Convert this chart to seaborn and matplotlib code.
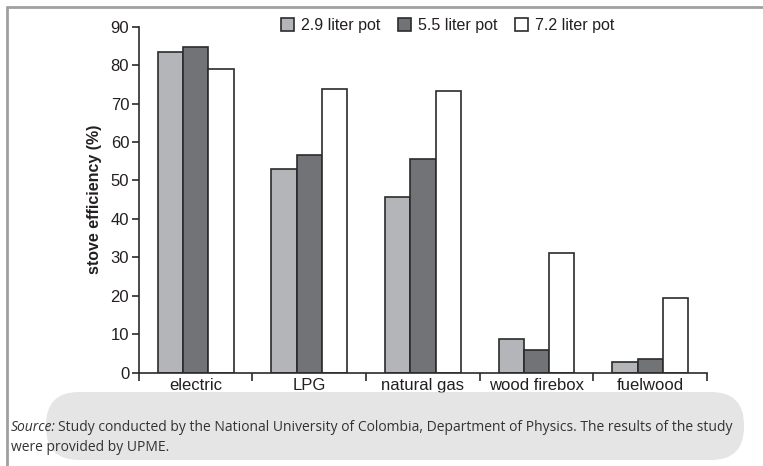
import matplotlib
matplotlib.use("Agg")
import matplotlib.pyplot as plt
from matplotlib.patches import FancyBboxPatch
from matplotlib.lines import Line2D
from matplotlib.transforms import IdentityTransform
import seaborn as sns
import pandas as pd
import numpy as np

categories = ["electric", "LPG", "natural gas", "wood firebox", "fuelwood"]
series = ["2.9 liter pot", "5.5 liter pot", "7.2 liter pot"]
pot_29 = [83.3, 52.9, 45.8, 8.8, 2.7]
pot_55 = [84.8, 56.5, 55.6, 5.9, 3.6]
pot_72 = [78.9, 73.8, 73.3, 31.2, 19.4]
colors = ["#b3b5b8", "#727377", "#ffffff"]

df = pd.DataFrame({
    "category": categories * 3,
    "pot": [series[0]] * 5 + [series[1]] * 5 + [series[2]] * 5,
    "value": pot_29 + pot_55 + pot_72,
})

sns.set_theme(style="white")
plt.rcParams['font.family'] = ['Liberation Sans', 'DejaVu Sans']
txt = "#231f20"

fig = plt.figure(figsize=(7.63, 4.66), dpi=100)
ax = fig.add_axes([0.182, 0.2003, 0.7446, 0.7424])

sns.barplot(data=df, x="category", y="value", hue="pot", order=categories,
            hue_order=series, palette=colors, width=0.667, edgecolor="#2b2b2b",
            linewidth=1.2, saturation=1, ax=ax, legend=True)

ax.set_ylim(0, 90)
ax.set_xlim(-0.5, 4.5)
ax.set_yticks(np.arange(0, 91, 10))
ax.tick_params(axis="y", which="major", direction="out", length=5, width=1.2,
               color="#2b2b2b", labelsize=12, labelcolor=txt, pad=2, left=True)
ax.set_xticks(range(5))
ax.set_xticklabels(categories)
ax.set_xticks(np.arange(-0.5, 4.6, 1), minor=True)
ax.tick_params(axis="x", which="major", length=0, labelsize=12, labelcolor=txt, pad=4)
ax.tick_params(axis="x", which="minor", direction="out", length=6, width=1.2,
               color="#2b2b2b", bottom=True)
ax.set_xlabel("")
ax.set_ylabel("stove efficiency (%)", fontsize=11.5, fontweight="bold", color=txt, labelpad=6)
for s in ["top", "right"]:
    ax.spines[s].set_visible(False)
for s in ["left", "bottom"]:
    ax.spines[s].set_color("#2b2b2b")
    ax.spines[s].set_linewidth(1.2)

h, l = ax.get_legend_handles_labels()
ax.legend(h, l, loc="center", bbox_to_anchor=(0.587, 0.946), bbox_transform=fig.transFigure,
          ncol=3, frameon=False, fontsize=11.5, handlelength=0.8, handleheight=0.9,
          handletextpad=0.45, columnspacing=1.1, labelcolor=txt)

# page border
fig.add_artist(Line2D([0.009, 1.0], [0.985, 0.985], color="#a0a0a0", lw=2, transform=fig.transFigure))
fig.add_artist(Line2D([0.009, 0.009], [0.0, 0.985], color="#a0a0a0", lw=2, transform=fig.transFigure))

# overlay band (pixel coordinates, y from bottom)
band = FancyBboxPatch((46, 6), 698, 68, boxstyle="round,pad=0,rounding_size=33",
                      transform=IdentityTransform(), facecolor="#d4d4d4", edgecolor="none",
                      alpha=0.6)
fig.add_artist(band)

fig.text(0.014, 0.082, "Source:", fontsize=10, style="italic", color="#333333",
         family="Open Sans", va="center")
fig.text(0.076, 0.082, "Study conducted by the National University of Colombia, Department of Physics. The results of the study",
         fontsize=10, color="#333333", family="Open Sans", va="center")
fig.text(0.014, 0.040, "were provided by UPME.", fontsize=10, color="#333333",
         family="Open Sans", va="center")

fig.savefig("out.png", dpi=100, facecolor="white")
